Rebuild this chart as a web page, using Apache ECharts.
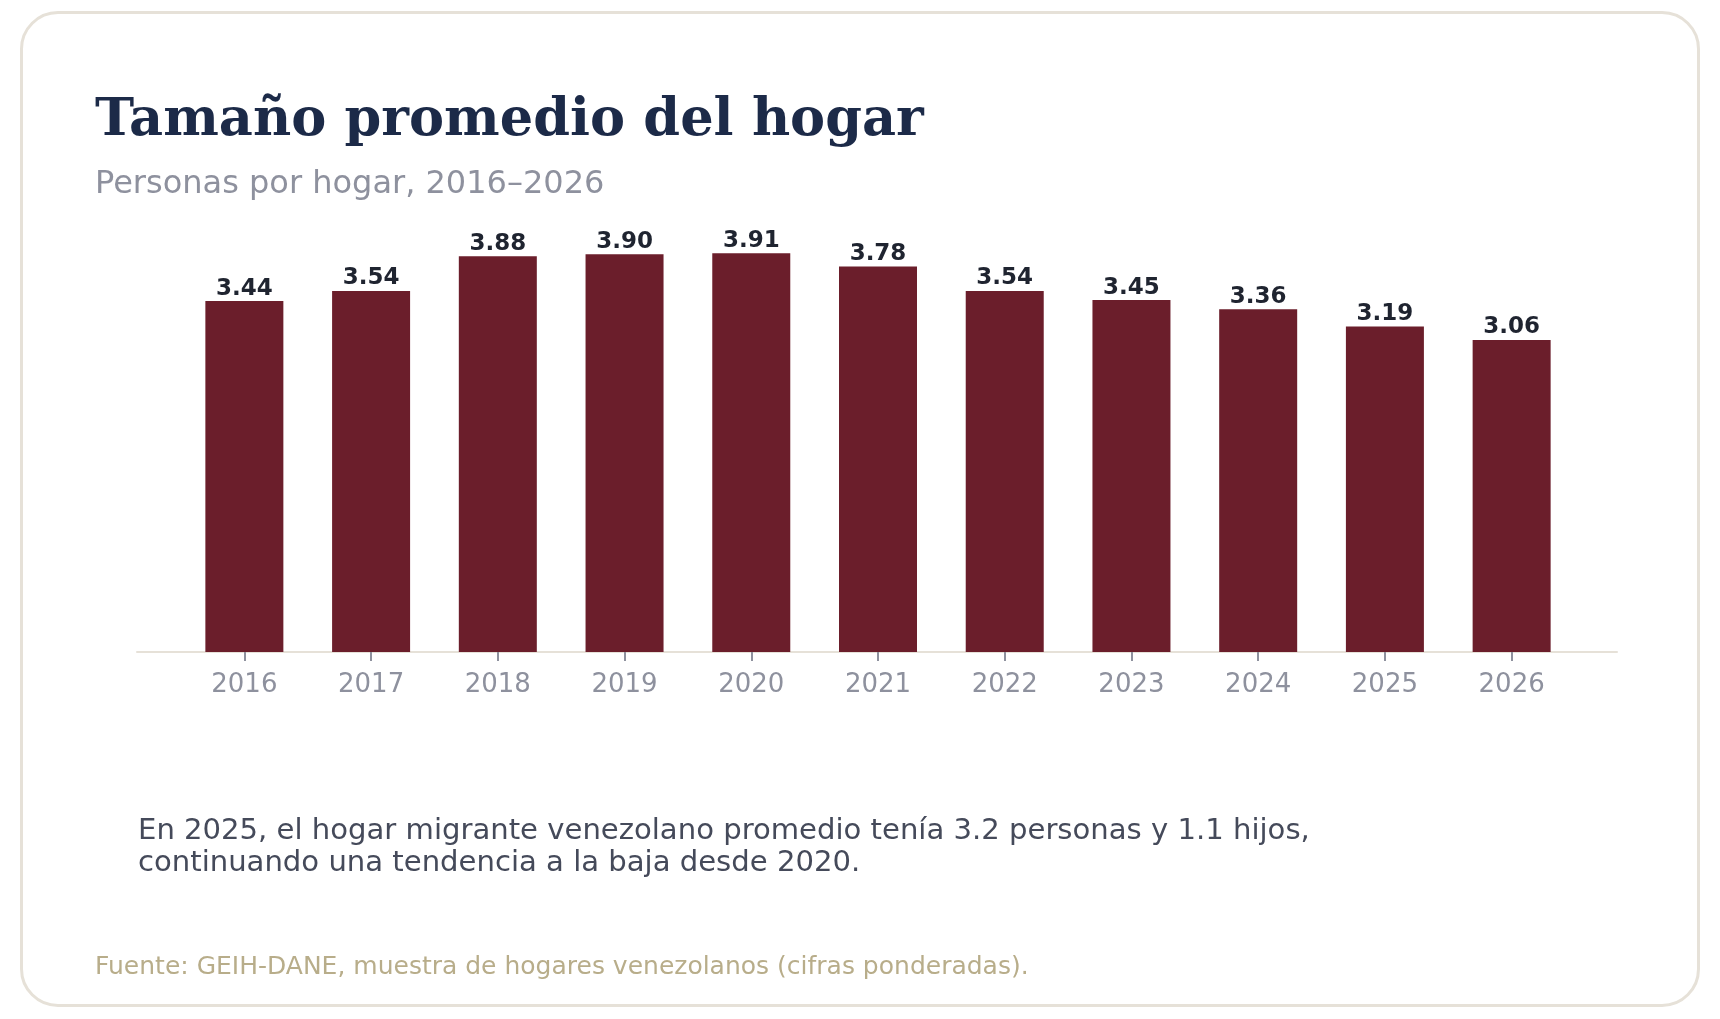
<!DOCTYPE html>
<html>
<head>
<meta charset="utf-8">
<script src="https://cdn.jsdelivr.net/npm/echarts@6/dist/echarts.min.js"></script>
<style>
    html, body { margin: 0; padding: 0; background: #ffffff; }
    #card {
        position: absolute; left: 20px; top: 11px; width: 1674px; height: 990px;
        border: 3px solid #e6e1d8; border-radius: 38px; background: #ffffff;
    }
    #chart { position: absolute; left: 0; top: 0; width: 1720px; height: 1019px; }
    .txt { position: absolute; white-space: nowrap; }
    #title { left: 95px; top: 86px; font: bold 52.6px "DejaVu Serif"; color: #1c2a48; }
    #subtitle { left: 95px; top: 163px; font: 32px "DejaVu Sans"; color: #8e919e; }
    #note { left: 138px; top: 813px; font: 29.1px "DejaVu Sans"; line-height: 32px; color: #454a5a; }
    #source { left: 95px; top: 951px; font: 25px "DejaVu Sans"; color: #b8ad8a; }
</style>
</head>
<body>
<div id="card"></div>
<div id="chart"></div>
<div class="txt" id="title">Tamaño promedio del hogar</div>
<div class="txt" id="subtitle">Personas por hogar, 2016–2026</div>
<div class="txt" id="note">En 2025, el hogar migrante venezolano promedio tenía 3.2 personas y 1.1 hijos,<br>continuando una tendencia a la baja desde 2020.</div>
<div class="txt" id="source">Fuente: GEIH-DANE, muestra de hogares venezolanos (cifras ponderadas).</div>
<script>
var years = ['2016', '2017', '2018', '2019', '2020', '2021', '2022', '2023', '2024', '2025', '2026'];
var personas = [3.44, 3.54, 3.88, 3.90, 3.91, 3.78, 3.54, 3.45, 3.36, 3.19, 3.06];

var dom = document.getElementById('chart');
var myChart = echarts.init(dom);
var option = null;

option = {
    animation: false,
    grid: [
        { left: 181, right: 145, top: 244, bottom: 367 },
        // only used to draw the long baseline
        { left: 137, right: 103, top: 244, bottom: 367 }
    ],
    xAxis: [
        {
            type: 'category',
            gridIndex: 0,
            data: years,
            axisLine: { show: false },
            axisTick: {
                show: true,
                alignWithLabel: true,
                length: 9,
                lineStyle: { color: '#8e919e', width: 2 }
            },
            axisLabel: {
                color: '#8e919e',
                fontFamily: 'DejaVu Sans',
                fontSize: 26,
                margin: 20
            }
        },
        {
            type: 'value',
            gridIndex: 1,
            min: 0,
            max: 1,
            axisLine: { show: true, onZero: false, lineStyle: { color: '#e6e1d8', width: 2 } },
            axisTick: { show: false },
            axisLabel: { show: false },
            splitLine: { show: false }
        }
    ],
    yAxis: [
        { type: 'value', gridIndex: 0, min: 0, max: 4, show: false },
        { type: 'value', gridIndex: 1, min: 0, max: 1, show: false }
    ],
    series: [
        {
            name: 'Personas por hogar',
            type: 'bar',
            xAxisIndex: 0,
            yAxisIndex: 0,
            barWidth: 78,
            data: personas,
            itemStyle: { color: '#6b1e2b' },
            label: {
                show: true,
                position: 'top',
                distance: 1,
                color: '#1f2430',
                fontFamily: 'DejaVu Sans',
                fontWeight: 'bold',
                fontSize: 23,
                formatter: function (p) {
                    return p.value.toFixed(2);
                }
            }
        }
    ]
};

if (option && typeof option === "object") {
    myChart.setOption(option, true);
}
</script>
</body>
</html>
